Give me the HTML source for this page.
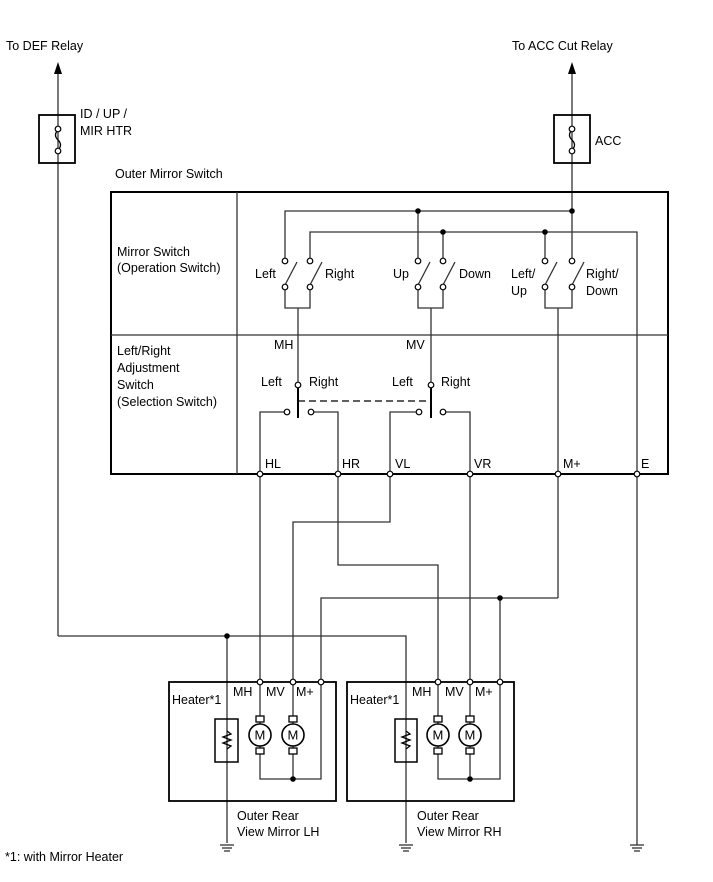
<!DOCTYPE html>
<html><head><style>
body{margin:0;background:#fff;}
svg{display:block;}
text{font-family:"Liberation Sans",Arial,sans-serif;font-size:12.5px;fill:#000;stroke:none;}
</style></head><body>
<svg width="713" height="882" viewBox="0 0 713 882" xmlns="http://www.w3.org/2000/svg">
<defs>
<g id="gnd"><line x1="-7" y1="0" x2="7" y2="0"/><line x1="-5" y1="3" x2="5" y2="3"/><line x1="-3" y1="6" x2="3" y2="6"/></g>
<g id="mot"><rect x="-4" y="-19" width="8" height="6" fill="#fff"/><rect x="-4" y="13" width="8" height="6" fill="#fff"/><circle r="11" fill="#fff" stroke-width="1.6"/><text x="-5.5" y="4.5" style="font-size:13px;stroke:none;fill:#000">M</text></g>
</defs>
<g stroke="#333" stroke-width="1.3" fill="none">
<line x1="58" y1="72" x2="58" y2="636"/>
<line x1="572" y1="72" x2="572" y2="212"/>
<rect x="39" y="115" width="36" height="48" stroke="#000" stroke-width="1.8"/>
<rect x="554" y="115" width="36" height="48" stroke="#000" stroke-width="1.8"/>
<rect x="111" y="192" width="557" height="282" stroke="#000" stroke-width="2"/>
<line x1="237" y1="192" x2="237" y2="474"/>
<line x1="111" y1="335" x2="668" y2="335"/>
<polyline points="285,261 285,211 572,211"/>
<polyline points="310,261 310,232 637,232 637,845"/>
<line x1="418" y1="211" x2="418" y2="261"/>
<line x1="443" y1="232" x2="443" y2="261"/>
<line x1="545" y1="232" x2="545" y2="261"/>
<line x1="572" y1="211" x2="572" y2="261"/>
<line x1="285" y1="285" x2="297" y2="262"/><line x1="310" y1="285" x2="322" y2="262"/>
<line x1="418" y1="285" x2="430" y2="262"/><line x1="443" y1="285" x2="455" y2="262"/>
<line x1="545" y1="285" x2="557" y2="262"/><line x1="572" y1="285" x2="584" y2="262"/>
<polyline points="285,289 285,308 310,308 310,289"/>
<polyline points="418,289 418,308 443,308 443,289"/>
<polyline points="545,289 545,308 572,308 572,289"/>
<line x1="298" y1="308" x2="298" y2="383"/>
<line x1="431" y1="308" x2="431" y2="383"/>
<line x1="558" y1="308" x2="558" y2="598"/>
<line x1="298" y1="388" x2="298" y2="418" stroke="#000" stroke-width="2"/>
<line x1="431" y1="388" x2="431" y2="418" stroke="#000" stroke-width="2"/>
<line x1="298" y1="401" x2="431" y2="401" stroke-dasharray="7,4" stroke="#000"/>
<polyline points="285,412 260,412 260,682"/>
<polyline points="313,412 338,412 338,565 438,565 438,682"/>
<polyline points="418,412 390,412 390,522 293,522 293,682"/>
<polyline points="444,412 470,412 470,682"/>
<polyline points="558,598 321,598 321,682"/>
<line x1="500" y1="598" x2="500" y2="682"/>
<polyline points="58,636 406,636 406,843"/>
<line x1="227" y1="636" x2="227" y2="843"/>
<rect x="169" y="682" width="167" height="119" stroke="#000" stroke-width="1.8"/>
<rect x="347" y="682" width="167" height="119" stroke="#000" stroke-width="1.8"/>
<rect x="215" y="719" width="23" height="43" stroke="#000" stroke-width="1.5"/>
<rect x="395" y="719" width="22" height="43" stroke="#000" stroke-width="1.5"/>
<polyline points="260,682 260,779 321,779 321,682"/>
<line x1="293" y1="682" x2="293" y2="779"/>
<polyline points="438,682 438,779 500,779 500,682"/>
<line x1="470" y1="682" x2="470" y2="779"/>
<polyline points="227,731 231,734 223,737 231,740 223,743 231,746 227,749" stroke="#000"/>
<polyline points="406,731 410,734 402,737 410,740 402,743 410,746 406,749" stroke="#000"/>
<path d="M58,130 q-5,5 0,10 q5,5 0,10" stroke="#000"/>
<path d="M572,130 q-5,5 0,10 q5,5 0,10" stroke="#000"/>
</g>
<g stroke="#000" stroke-width="1.3" fill="#fff">
<use href="#mot" x="260" y="735"/><use href="#mot" x="293" y="735"/>
<use href="#mot" x="438" y="735"/><use href="#mot" x="470" y="735"/>
</g>
<g stroke="#333" stroke-width="1.3" fill="none">
<use href="#gnd" x="227" y="845"/><use href="#gnd" x="406" y="845"/><use href="#gnd" x="637" y="845"/>
</g>
<polygon points="58,62 54,74 62,74" fill="#000"/>
<polygon points="572,62 568,74 576,74" fill="#000"/>
<g fill="#000">
<circle cx="418" cy="211" r="2.8"/><circle cx="572" cy="211" r="2.8"/>
<circle cx="443" cy="232" r="2.8"/><circle cx="545" cy="232" r="2.8"/>
<circle cx="500" cy="598" r="2.8"/><circle cx="227" cy="636" r="2.8"/>
<circle cx="293" cy="779" r="2.8"/><circle cx="470" cy="779" r="2.8"/>
</g>
<g fill="#fff" stroke="#000" stroke-width="1.2">
<circle cx="58" cy="129" r="2.8"/><circle cx="58" cy="151" r="2.8"/>
<circle cx="572" cy="129" r="2.8"/><circle cx="572" cy="151" r="2.8"/>
<circle cx="285" cy="261" r="2.8"/><circle cx="310" cy="261" r="2.8"/><circle cx="418" cy="261" r="2.8"/><circle cx="443" cy="261" r="2.8"/><circle cx="545" cy="261" r="2.8"/><circle cx="572" cy="261" r="2.8"/>
<circle cx="285" cy="287" r="2.8"/><circle cx="310" cy="287" r="2.8"/><circle cx="418" cy="287" r="2.8"/><circle cx="443" cy="287" r="2.8"/><circle cx="545" cy="287" r="2.8"/><circle cx="572" cy="287" r="2.8"/>
<circle cx="298" cy="385" r="2.8"/><circle cx="431" cy="385" r="2.8"/>
<circle cx="287" cy="412" r="2.8"/><circle cx="311" cy="412" r="2.8"/><circle cx="419" cy="412" r="2.8"/><circle cx="443" cy="412" r="2.8"/>
<circle cx="260" cy="474" r="2.8"/><circle cx="338" cy="474" r="2.8"/><circle cx="390" cy="474" r="2.8"/><circle cx="470" cy="474" r="2.8"/><circle cx="558" cy="474" r="2.8"/><circle cx="637" cy="474" r="2.8"/>
<circle cx="260" cy="682" r="2.8"/><circle cx="293" cy="682" r="2.8"/><circle cx="321" cy="682" r="2.8"/>
<circle cx="438" cy="682" r="2.8"/><circle cx="470" cy="682" r="2.8"/><circle cx="500" cy="682" r="2.8"/>
</g>
<text x="6" y="50">To DEF Relay</text>
<text x="512" y="50">To ACC Cut Relay</text>
<text x="80" y="118">ID / UP /</text>
<text x="80" y="135">MIR HTR</text>
<text x="595" y="145">ACC</text>
<text x="115" y="178">Outer Mirror Switch</text>
<text x="117" y="256">Mirror Switch</text>
<text x="117" y="272">(Operation Switch)</text>
<text x="255" y="278">Left</text><text x="325" y="278">Right</text>
<text x="393" y="278">Up</text><text x="459" y="278">Down</text>
<text x="511" y="278">Left/</text><text x="511" y="295">Up</text>
<text x="586" y="278">Right/</text><text x="586" y="295">Down</text>
<text x="117" y="355">Left/Right</text>
<text x="117" y="372">Adjustment</text>
<text x="117" y="389">Switch</text>
<text x="117" y="406">(Selection Switch)</text>
<text x="274" y="349">MH</text><text x="406" y="349">MV</text>
<text x="261" y="386">Left</text><text x="309" y="386">Right</text>
<text x="392" y="386">Left</text><text x="441" y="386">Right</text>
<text x="265" y="468">HL</text><text x="342" y="468">HR</text><text x="395" y="468">VL</text><text x="474" y="468">VR</text><text x="563" y="468">M+</text><text x="641" y="468">E</text>
<text x="172" y="704">Heater*1</text><text x="233" y="696">MH</text><text x="266" y="696">MV</text><text x="296" y="696">M+</text>
<text x="350" y="704">Heater*1</text><text x="412" y="696">MH</text><text x="445" y="696">MV</text><text x="475" y="696">M+</text>
<text x="237" y="820">Outer Rear</text><text x="237" y="836">View Mirror LH</text>
<text x="417" y="820">Outer Rear</text><text x="417" y="836">View Mirror RH</text>
<text x="5" y="861">*1: with Mirror Heater</text>
</svg>
</body></html>
